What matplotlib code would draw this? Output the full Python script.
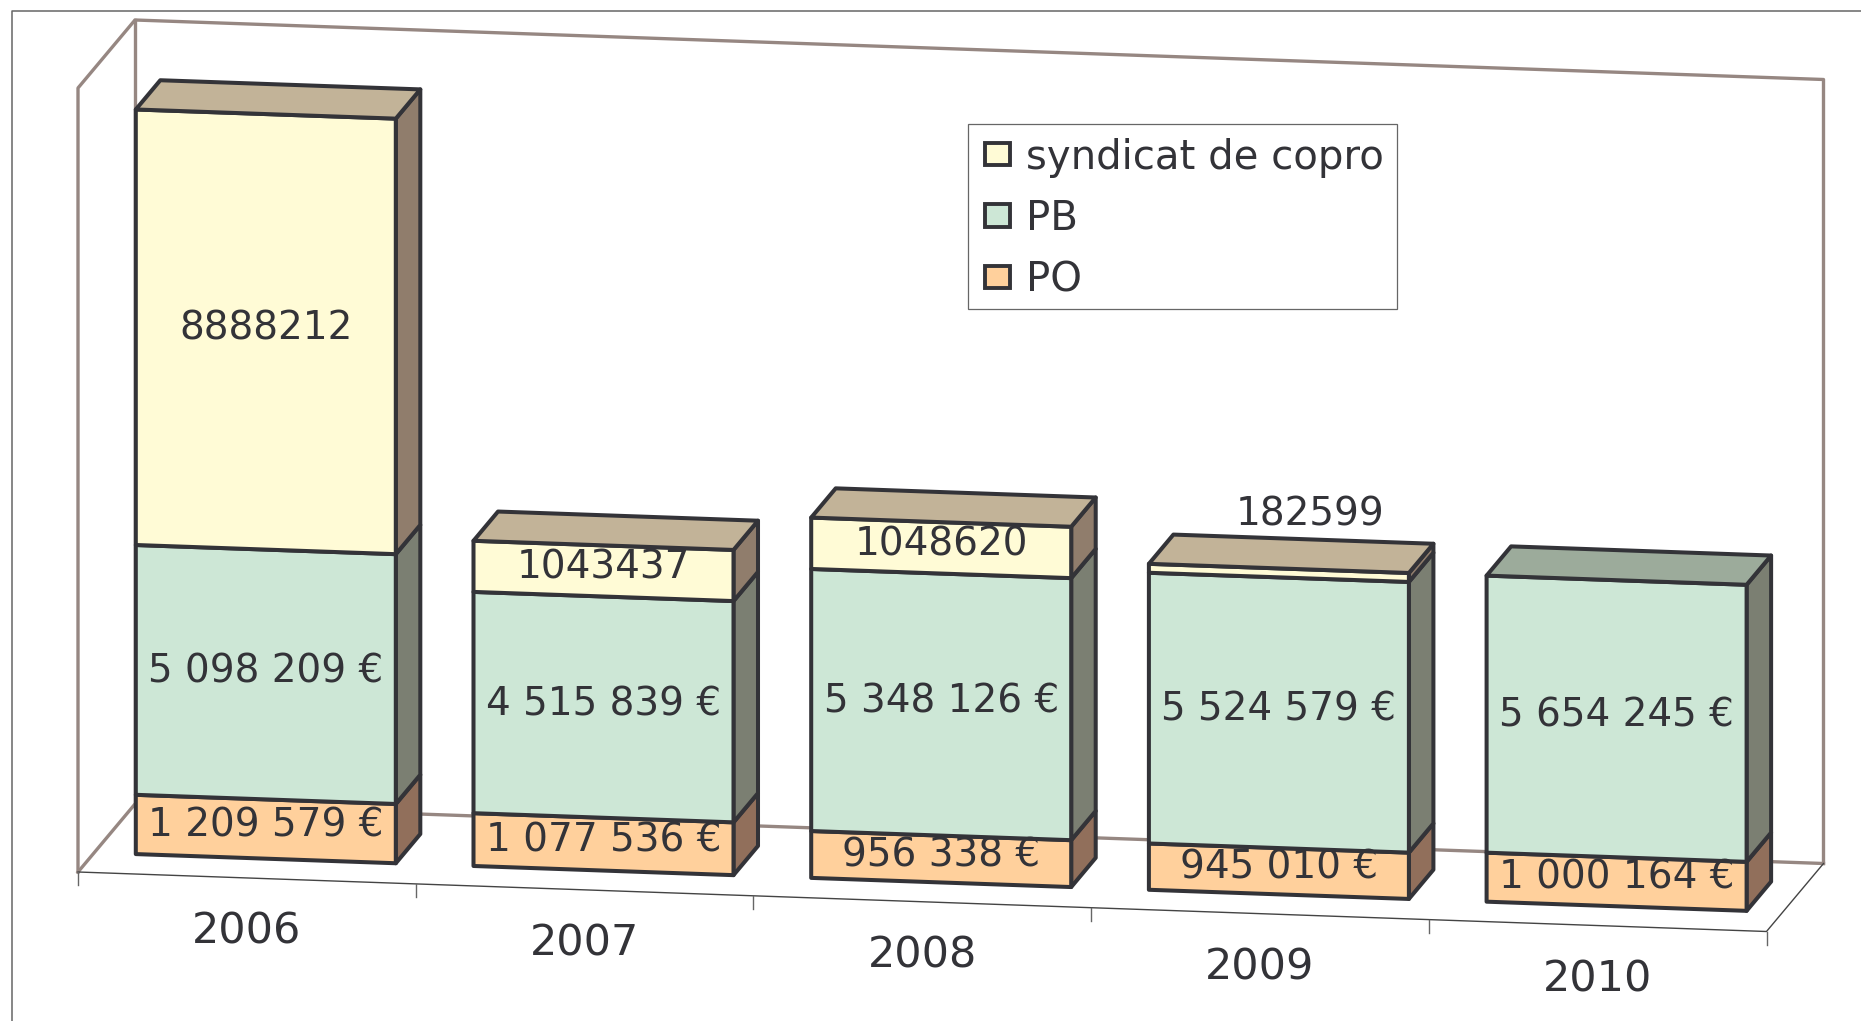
# -*- coding: utf-8 -*-
import matplotlib
matplotlib.use("Agg")
import matplotlib.pyplot as plt
from matplotlib.patches import Patch, Rectangle

plt.rcParams['font.family'] = ['DejaVu Sans']

# Data
years = ['2006', '2007', '2008', '2009', '2010']
po = [1209579, 1077536, 956338, 945010, 1000164]
pb = [5098209, 4515839, 5348126, 5524579, 5654245]
syndic = [8888212, 1043437, 1048620, 182599, 0]
axis_max = 16000000

# Colours: front, side, top of each series
yellow = ['#FFFBD6', '#907D6C', '#C2B398']
green = ['#CDE7D6', '#7B7F72', '#9CAB9B']
orange = ['#FFD09C', '#916F5B', '#C2A27E']
ink = '#333338'
wall = '#968782'


def project(cat, value, depth=0.0):
    # fake 3D: category / value / depth -> image pixels
    u = cat + 0.5
    px = 78 + 337.7 * u + 57 * depth
    py = 872 + 11.9 * u - 68 * depth - value * 784 / axis_max
    return px, py


fig = plt.figure(figsize=(18.61, 10.21), dpi=100)
ax = fig.add_axes([0, 0, 1, 1])
ax.set_xlim(0, 1861)
ax.set_ylim(1021, 0)
ax.axis('off')


def line(points, color, lw, z=1):
    xs = [project(*p)[0] for p in points]
    ys = [project(*p)[1] for p in points]
    ax.plot(xs, ys, color=color, lw=lw, zorder=z, solid_capstyle='projecting')


# outer frame of the picture
ax.plot([12, 12, 1861], [1021, 11, 11], color='#666666', lw=1.1, zorder=0)

# walls and floor
c0, c1 = -0.5, 4.5
line([(c0, 0, 0), (c0, axis_max, 0), (c0, axis_max, 1), (c1, axis_max, 1), (c1, 0, 1)], wall, 2.4)
line([(c0, 0, 0), (c0, 0, 1), (c1, 0, 1)], wall, 2.4)
line([(c0, axis_max, 1), (c0, 0, 1)], wall, 2.4)
line([(c0, 0, 0), (c1, 0, 0), (c1, 0, 1)], '#444444', 1.0)
for i in range(len(years) + 1):
    tx, ty = project(i - 0.5, 0)
    ax.plot([tx, tx], [ty, ty + 13], color='#666666', lw=1.0, zorder=1)

# bar geometry, in axis units
bar_w = 260 / 337.7
d0, d1 = 0.285, 0.715


def face(points, color, z):
    xs = [project(*p)[0] for p in points]
    ys = [project(*p)[1] for p in points]
    ax.fill(xs, ys, facecolor=color, edgecolor=ink, lw=2.9, joinstyle='round', zorder=z)


z = 3
for i in range(len(years)):
    x0 = i - bar_w / 2 + 0.008
    x1 = x0 + bar_w
    base = 0
    top_cols = None
    for vals, cols in ((po, orange), (pb, green), (syndic, yellow)):
        v = vals[i]
        if v == 0:
            continue
        face([(x1, base, d0), (x1, base, d1), (x1, base + v, d1), (x1, base + v, d0)], cols[1], z)
        face([(x0, base, d0), (x1, base, d0), (x1, base + v, d0), (x0, base + v, d0)], cols[0], z)
        base += v
        top_cols = cols
    face([(x0, base, d0), (x1, base, d0), (x1, base, d1), (x0, base, d1)], top_cols[2], z)
    z += 1

    # data labels
    cx = (x0 + x1) / 2
    label_z = z + 20
    px, py = project(cx, po[i] / 2, d0)
    ax.text(px, py - 4, f"{po[i]:,}".replace(",", " ") + " €", ha='center', va='center',
            fontsize=28, color=ink, zorder=label_z)
    px, py = project(cx, po[i] + pb[i] / 2, d0)
    ax.text(px, py - 3, f"{pb[i]:,}".replace(",", " ") + " €", ha='center', va='center',
            fontsize=28, color=ink, zorder=label_z)
    if syndic[i] > 0:
        px, py = project(cx, po[i] + pb[i] + syndic[i] / 2, d0)
        if syndic[i] < 500000:
            # too thin for the label, Excel moved it above the bar
            px, py = px + 31, py - 55
        ax.text(px, py - 3, str(syndic[i]), ha='center', va='center',
                fontsize=28, color=ink, zorder=label_z)

# year labels under the floor
for i, year in enumerate(years):
    px, py = project(i, 0)
    ax.text(px, py + 54, year, ha='center', va='center', fontsize=31, color=ink)

# legend, frame drawn on its own to get the box size right
ax.add_patch(Rectangle((968, 124), 429, 185, facecolor='white', edgecolor='#666666',
                       lw=0.9, zorder=2))
handles = [Patch(facecolor=yellow[0], edgecolor=ink, lw=2.8),
           Patch(facecolor=green[0], edgecolor=ink, lw=2.8),
           Patch(facecolor=orange[0], edgecolor=ink, lw=2.8)]
leg = ax.legend(handles, ['syndicat de copro', 'PB', 'PO'],
                loc='upper left', bbox_to_anchor=(968, 121),
                bbox_transform=ax.transData, borderaxespad=0,
                fontsize=29, labelcolor=ink, frameon=False,
                labelspacing=0.53, handlelength=0.63,
                handleheight=0.48, handletextpad=0.4, borderpad=0.41)
leg.set_zorder(2.5)

fig.savefig('out.png', dpi=100)
